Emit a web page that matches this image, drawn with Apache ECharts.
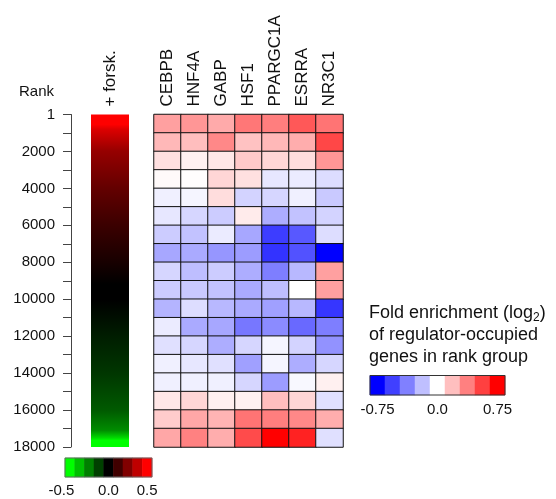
<!DOCTYPE html>
<html>
<head>
<meta charset="utf-8">
<script src="https://cdn.jsdelivr.net/npm/echarts@6/dist/echarts.min.js"></script>
<style>html,body{margin:0;padding:0;background:#fff;}#c{width:556px;height:499px;}</style>
</head>
<body>
<div id="c"></div>
<script>
const regulators = ['CEBPB','HNF4A','GABP','HSF1','PPARGC1A','ESRRA','NR3C1'];
const rankGroups = ['1-1000','1001-2000','2001-3000','3001-4000','4001-5000','5001-6000','6001-7000','7001-8000','8001-9000','9001-10000','10001-11000','11001-12000','12001-13000','13001-14000','14001-15000','15001-16000','16001-17000','17001-18000'];
// fold enrichment (log2) per regulator, one value per rank group (top to bottom)
const CEBPB    = [0.28,0.21,0.09,0.015,-0.045,-0.07,-0.15,-0.26,-0.12,-0.15,-0.22,-0.06,-0.09,-0.045,-0.045,0.07,0.15,0.26];
const HNF4A    = [0.31,0.19,0.04,0.005,-0.03,-0.12,-0.18,-0.25,-0.19,-0.16,-0.10,-0.25,-0.12,-0.07,-0.045,0.12,0.26,0.37];
const GABP     = [0.25,0.35,0.07,0.12,0.10,-0.15,-0.06,-0.31,-0.15,-0.18,-0.21,-0.26,-0.24,-0.09,-0.045,0.045,0.22,0.24];
const HSF1     = [0.40,0.18,0.16,0.09,-0.13,0.06,-0.26,-0.29,-0.24,-0.25,-0.25,-0.40,-0.12,-0.28,-0.12,0.04,0.41,0.53];
const PPARGC1A = [0.38,0.21,0.12,-0.07,-0.12,-0.24,-0.57,-0.60,-0.38,-0.19,-0.28,-0.34,-0.03,-0.03,-0.29,0.19,0.38,0.75];
const ESRRA    = [0.49,0.24,0.10,-0.06,-0.045,-0.18,-0.49,-0.51,-0.21,0.0,-0.21,-0.44,-0.13,-0.24,-0.02,0.12,0.35,0.65];
const NR3C1    = [0.41,0.54,0.31,-0.10,-0.16,-0.13,-0.10,-0.75,0.28,0.28,-0.59,-0.38,-0.32,-0.12,0.045,-0.09,0.24,-0.09];
const regulatorValues = [CEBPB, HNF4A, GABP, HSF1, PPARGC1A, ESRRA, NR3C1];

// rank axis
const rankMin = 0, rankMax = 18000, rankTickStep = 1000, rankLabelStep = 2000;
// forskolin expression gradient along the rank (offset 0 = rank 1, 1 = rank 18000)
const forskOffsets = [0, 0.03, 0.045, 0.11, 0.22, 0.33, 0.44, 0.51, 0.557, 0.67, 0.78, 0.89, 0.95, 0.973, 0.98, 1];
const forskColors  = ['#ff0000','#ff0000','#dc0000','#960000','#640000','#3c0000','#190000','#000000','#000000','#001e00','#003700','#005a00','#008c00','#00dc00','#00ff00','#00ff00'];

// colour keys
const enrichKey = [-0.75,-0.5625,-0.375,-0.1875,0,0.1875,0.375,0.5625,0.75];
const enrichKeyLabels = ['-0.75','','','','0.0','','','','0.75'];
const forskKey = [-0.5,-0.375,-0.25,-0.125,0,0.125,0.25,0.375,0.5];
const forskKeyLabels = ['-0.5','','','','0.0','','','','0.5'];

const FONT = "'Liberation Sans', Arial, sans-serif";

const heatData = [];
regulatorValues.forEach((vals, c) => vals.forEach((v, r) => heatData.push([c, r, v])));

const chart = echarts.init(document.getElementById('c'));
chart.setOption({
  animation: false,
  backgroundColor: '#fff',
  textStyle: { fontFamily: FONT },
  title: [
    { text: 'Rank', left: 19, top: 84, padding: 0,
      textStyle: { fontSize: 15, fontWeight: 'normal', color: '#111', fontFamily: FONT, lineHeight: 16 } },
    { text: '{a|Fold enrichment (log}{s|2}{a|)}\n{a|of regulator-occupied}\n{a|genes in rank group}',
      left: 369, top: 302, padding: 0,
      textStyle: { fontSize: 18, fontWeight: 'normal', color: '#111', fontFamily: FONT, lineHeight: 22,
        rich: {
          a: { fontSize: 18, lineHeight: 22, color: '#111', fontFamily: FONT },
          s: { fontSize: 12, lineHeight: 12, color: '#111', fontFamily: FONT, verticalAlign: 'bottom' }
        } } }
  ],
  grid: [
    { left: 154, top: 114.5, width: 189, height: 332.5 },
    { left: 91, top: 114.5, width: 38, height: 332.5 },
    { left: 370, top: 375.5, width: 135, height: 19.5, show: true, z: 10, borderColor: '#333', borderWidth: 1, backgroundColor: 'transparent' },
    { left: 65, top: 458, width: 87, height: 19, show: true, z: 10, borderColor: '#666', borderWidth: 1, backgroundColor: 'transparent' }
  ],
  xAxis: [
    { type: 'category', gridIndex: 0, data: regulators, position: 'top',
      axisLine: { show: false }, axisTick: { show: false }, splitLine: { show: false },
      axisLabel: { rotate: -90, fontSize: 17, color: '#111', margin: 8, fontFamily: FONT } },
    { type: 'category', gridIndex: 1, data: ['+ forsk.'], position: 'top',
      axisLine: { show: false }, axisTick: { show: false },
      axisLabel: { rotate: 90, fontSize: 17, color: '#111', margin: 8, fontFamily: FONT } },
    { type: 'category', gridIndex: 2, data: enrichKeyLabels.map((l, i) => String(i)), position: 'bottom',
      axisLine: { show: false }, axisTick: { show: false },
      axisLabel: { interval: 0, fontSize: 15, color: '#111', margin: 7, fontFamily: FONT,
        formatter: (v, i) => enrichKeyLabels[i] } },
    { type: 'category', gridIndex: 3, position: 'bottom',
      data: forskKeyLabels.map((l, i) => i === 0 ? { value: String(i), textStyle: { padding: [0, 17, 0, 0] } } : String(i)),
      axisLine: { show: false }, axisTick: { show: false },
      axisLabel: { interval: 0, fontSize: 15, color: '#111', margin: 6, fontFamily: FONT,
        formatter: (v, i) => forskKeyLabels[i] } }
  ],
  yAxis: [
    { type: 'category', gridIndex: 0, data: rankGroups, inverse: true, show: false },
    { type: 'value', gridIndex: 1, min: rankMin, max: rankMax, interval: rankTickStep, inverse: true,
      position: 'left', offset: 20,
      axisLine: { show: true, lineStyle: { color: '#444', width: 1 } },
      axisTick: { show: true, length: 8, lineStyle: { color: '#444' } },
      splitLine: { show: false },
      axisLabel: { fontSize: 15, color: '#111', margin: 16, fontFamily: FONT,
        formatter: v => (v % rankLabelStep === 0) ? (v === 0 ? '1' : String(v)) : '' } },
    { type: 'category', gridIndex: 2, data: ['k'], show: false },
    { type: 'category', gridIndex: 3, data: ['k'], show: false }
  ],
  visualMap: [
    { type: 'continuous', show: false, seriesIndex: [0, 2], dimension: 2, min: -0.75, max: 0.75,
      inRange: { color: ['#0000ff', '#ffffff', '#ff0000'] } },
    { type: 'continuous', show: false, seriesIndex: [3], dimension: 2, min: -0.5, max: 0.5,
      inRange: { color: ['#00ff00', '#000000', '#ff0000'] } }
  ],
  series: [
    { type: 'heatmap', xAxisIndex: 0, yAxisIndex: 0, data: heatData,
      itemStyle: { borderColor: '#111', borderWidth: 1 } },
    { type: 'bar', xAxisIndex: 1, yAxisIndex: 1, data: [rankMax], barWidth: '100%',
      itemStyle: { color: new echarts.graphic.LinearGradient(0, 0, 0, 1,
        forskOffsets.map((o, i) => ({ offset: o, color: forskColors[i] }))) } },
    { type: 'heatmap', xAxisIndex: 2, yAxisIndex: 2, data: enrichKey.map((v, i) => [i, 0, v]) },
    { type: 'heatmap', xAxisIndex: 3, yAxisIndex: 3, data: forskKey.map((v, i) => [i, 0, v]) }
  ]
});
</script>
</body>
</html>
